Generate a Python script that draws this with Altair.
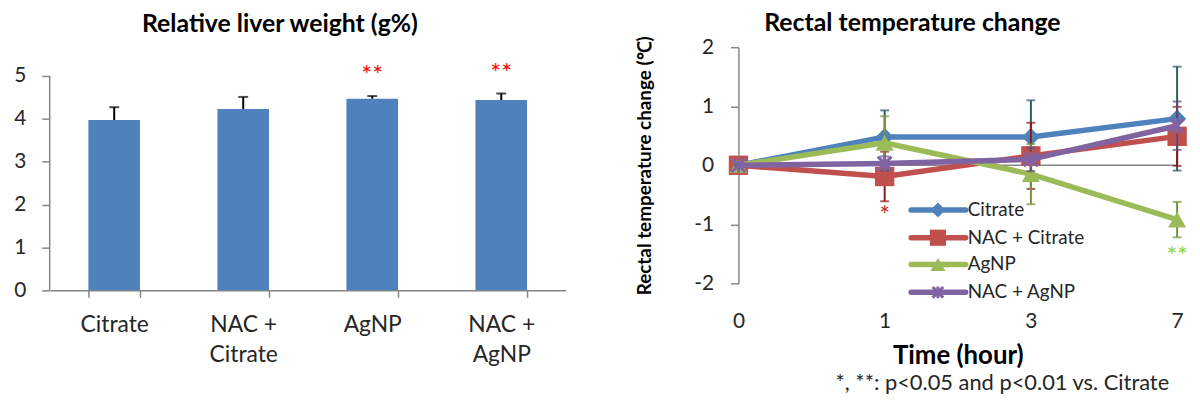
import altair as alt
import pandas as pd

FONT = "Lato"
LABEL_COLOR = "#262626"
AXIS_GRAY = "#868686"

# ---------------- Left panel data ----------------
groups = ["Citrate", "NAC + Citrate", "AgNP", "NAC + AgNP"]
liver_mean = [3.97, 4.23, 4.47, 4.44]
liver_sd = [0.30, 0.28, 0.06, 0.15]
liver_sig = ["", "", "**", "**"]
left_title = "Relative liver weight (g%)"

# ---------------- Right panel data ----------------
times = [0, 1, 3, 7]
series = ["Citrate", "NAC + Citrate", "AgNP", "NAC + AgNP"]
citrate_temp = [0.0, 0.48, 0.48, 0.79]
citrate_sd = [0.0, 0.45, 0.62, 0.88]
nac_citrate_temp = [0.0, -0.19, 0.16, 0.49]
nac_citrate_sd = [0.0, 0.42, 0.56, 0.50]
agnp_temp = [0.0, 0.38, -0.15, -0.92]
agnp_sd = [0.0, 0.45, 0.51, 0.30]
nac_agnp_temp = [0.0, 0.03, 0.10, 0.67]
nac_agnp_sd = [0.0, 0.12, 0.20, 0.41]
right_title = "Rectal temperature change"

star_time = [1, 7]
star_value = [-0.86, -1.56]
star_text = ["*", "**"]

footnote = "*, **: p<0.05 and p<0.01 vs. Citrate"

# styles
line_colors = ["#4F81BD", "#C0504D", "#9BBB59", "#8064A2"]
err_colors = ["#2E5A60", "#8B1A1A", "#76923C", "#5F497A"]
shapes = ["diamond", "square", "triangle-up", "M-1,-1L1,1M1,-1L-1,1M0,-1.1L0,1.1"]
shape_sizes = [330, 380, 330, 190]
star_colors = ["#C0302D", "#92D050"]

# ================= Left chart =================
W1, H1 = 520, 245
ldf = pd.DataFrame({"group": groups, "mean": liver_mean, "sd": liver_sd, "sig": liver_sig})
ldf["upper"] = ldf["mean"] + ldf["sd"]

lx = alt.X("group:N", sort=groups, title=None,
           scale=alt.Scale(paddingInner=0.6, paddingOuter=0.3),
           axis=alt.Axis(labelAngle=0, labelFontSize=23, labelColor=LABEL_COLOR, labelPadding=16,
                         labelLineHeight=31, labelFont=FONT,
                         labelExpr="split(replace(datum.label, '+ ', '+|'), '|')",
                         domainColor=AXIS_GRAY, domainWidth=1.5, tickColor=AXIS_GRAY,
                         tickWidth=1.5, tickSize=7, tickBand="extent"))


def LY(field):
    return alt.Y(field, title=None, scale=alt.Scale(domain=[0, 5.67], nice=False, zero=True),
                 axis=alt.Axis(values=[0, 1, 2, 3, 4, 5], grid=False, domain=False,
                               tickColor=AXIS_GRAY, tickWidth=1.5, tickSize=8, labelFontSize=21,
                               labelFont=FONT, labelPadding=16, labelColor=LABEL_COLOR))


lbase = alt.Chart(ldf)
l_axisline = alt.Chart(pd.DataFrame({"lo": [0], "hi": [5]})).mark_rule(
    color=AXIS_GRAY, strokeWidth=1.5).encode(x=alt.value(0), y=LY("lo:Q"), y2="hi:Q")
l_bars = lbase.mark_bar(color="#4F81BD").encode(x=lx, y=LY("mean:Q"))
l_err = lbase.mark_rule(color="black", strokeWidth=2).encode(x=lx, y=LY("mean:Q"), y2="upper:Q")
l_cap = lbase.mark_tick(color="black", size=10, thickness=2).encode(x=lx, y=LY("upper:Q"))
l_sig = lbase.mark_text(color="#FF0000", fontSize=26, dy=-20, font=FONT).encode(
    x=lx, y=LY("upper:Q"), text="sig:N")
l_title = alt.Chart(pd.DataFrame({"t": [left_title]})).mark_text(
    align="left", baseline="middle", fontSize=25, font=FONT, fontWeight="bold",
    color="#000000").encode(x=alt.value(93), y=alt.value(-23), text="t:N")

left = alt.layer(l_bars, l_axisline, l_err, l_cap, l_sig, l_title).properties(
    width=W1, height=H1)

# ================= Right chart =================
W2, H2 = 442, 238

rx = alt.X("time:O", sort=times, title="Time (hour)",
           scale=alt.Scale(type="point", padding=0),
           axis=alt.Axis(labelAngle=0, domain=False, ticks=False, labelFontSize=21, labelFont=FONT,
                         labelPadding=27, labelColor=LABEL_COLOR, titleFontSize=26,
                         titleFont=FONT, titleFontWeight="bold", titlePadding=12,
                         titleColor="#000000"))


def RY(field):
    return alt.Y(field, title="Rectal temperature change (℃)",
                 scale=alt.Scale(domain=[-2, 2], nice=False),
                 axis=alt.Axis(values=[-2, -1, 0, 1, 2], grid=False, domainColor=AXIS_GRAY,
                               domainWidth=1.5, tickColor=AXIS_GRAY, tickWidth=1.5, tickSize=8,
                               labelFontSize=21, labelFont=FONT, labelPadding=17,
                               labelColor=LABEL_COLOR,
                               labelExpr="datum.value < 0 ? '-' + abs(datum.value) : '' + datum.value",
                               titleFontSize=19, titleFont=FONT, titleFontWeight="bold",
                               titlePadding=40, titleColor="#000000"))


layers = []
layers.append(alt.Chart(pd.DataFrame({"z": [0]})).mark_rule(
    color=AXIS_GRAY, strokeWidth=1.5).encode(y=RY("z:Q"), x=alt.value(0), x2=alt.value(W2)))

means = [citrate_temp, nac_citrate_temp, agnp_temp, nac_agnp_temp]
sds = [citrate_sd, nac_citrate_sd, agnp_sd, nac_agnp_sd]
for i, name in enumerate(series):
    sdf = pd.DataFrame({"time": times, "val": means[i], "sd": sds[i]})
    sdf["lo"] = sdf["val"] - sdf["sd"]
    sdf["hi"] = sdf["val"] + sdf["sd"]
    sdf["series"] = name
    b = alt.Chart(sdf)
    layers.append(b.mark_rule(color=err_colors[i], strokeWidth=2).encode(
        x=rx, y=RY("lo:Q"), y2="hi:Q"))
    layers.append(b.mark_tick(color=err_colors[i], size=9, thickness=2).encode(x=rx, y=RY("lo:Q")))
    layers.append(b.mark_tick(color=err_colors[i], size=9, thickness=2).encode(x=rx, y=RY("hi:Q")))
    layers.append(b.mark_line(color=line_colors[i], strokeWidth=5.5).encode(x=rx, y=RY("val:Q")))
    if i < 3:
        pt = b.mark_point(shape=shapes[i], size=shape_sizes[i], filled=True,
                          color=line_colors[i], opacity=1)
    else:
        pt = b.mark_point(shape=shapes[i], size=shape_sizes[i], filled=False, strokeWidth=3,
                          color=line_colors[i], opacity=1)
    layers.append(pt.encode(x=rx, y=RY("val:Q")))

# significance stars
for j in range(len(star_time)):
    sd_ = pd.DataFrame({"time": [star_time[j]], "val": [star_value[j]], "t": [star_text[j]]})
    layers.append(alt.Chart(sd_).mark_text(color=star_colors[j], fontSize=26, font=FONT).encode(
        x=rx, y=RY("val:Q"), text="t:N"))

# legend (inside plot, manual)
leg_y = [164, 192, 219, 247]
for i, name in enumerate(series):
    ldat = alt.Chart(pd.DataFrame({"series": [name]}))
    layers.append(ldat.mark_rule(color=line_colors[i], strokeWidth=5.5, strokeCap="round").encode(
        x=alt.value(174), x2=alt.value(229), y=alt.value(leg_y[i])))
    if i < 3:
        lp = ldat.mark_point(shape=shapes[i], size=shape_sizes[i] * 0.7, filled=True,
                             color=line_colors[i], opacity=1)
    else:
        lp = ldat.mark_point(shape=shapes[i], size=shape_sizes[i] * 0.6, filled=False,
                             strokeWidth=3, color=line_colors[i], opacity=1)
    layers.append(lp.encode(x=alt.value(201), y=alt.value(leg_y[i])))
    layers.append(ldat.mark_text(align="left", baseline="middle", fontSize=19, font=FONT,
                                 color=LABEL_COLOR).encode(
        x=alt.value(231), y=alt.value(leg_y[i]), text="series:N"))

layers.append(alt.Chart(pd.DataFrame({"note": [footnote]})).mark_text(
    align="right", baseline="middle", fontSize=22, font=FONT, color=LABEL_COLOR).encode(
    x=alt.value(434), y=alt.value(338), text="note:N"))

layers.append(alt.Chart(pd.DataFrame({"t": [right_title]})).mark_text(
    align="left", baseline="middle", fontSize=25, font=FONT, fontWeight="bold",
    color="#000000").encode(x=alt.value(26), y=alt.value(-24), text="t:N"))

right = alt.layer(*layers).properties(width=W2, height=H2)

chart = alt.hconcat(left, right, spacing=70).properties(
    padding={"left": 5, "top": 2, "right": 2, "bottom": 2}
).configure(font=FONT).configure_view(stroke=None)

chart.save("out.html", embed_options={"renderer": "svg", "actions": False})
